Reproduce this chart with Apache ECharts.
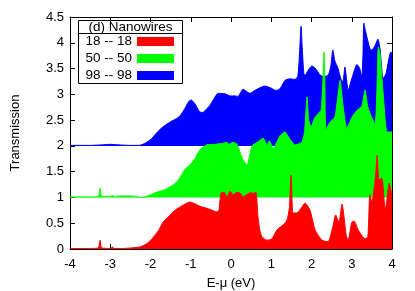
<!DOCTYPE html>
<html><head><meta charset="utf-8">
<script src="https://cdn.jsdelivr.net/npm/echarts@6/dist/echarts.min.js"></script>
<style>html,body{margin:0;padding:0;background:#fff}#c{width:415px;height:291px}</style>
</head><body><div id="c"></div>
<script>
// x ticks and y ticks
var xTicks = [-4, -3, -2, -1, 0, 1, 2, 3, 4];
var yTicks = [0, 0.5, 1, 1.5, 2, 2.5, 3, 3.5, 4, 4.5];
var seriesNames = ['18 -- 18', '50 -- 50', '98 -- 98'];
var baselines = [0, 1, 2];

// 18 -- 18 (offset 0)
var redE = [-4, -3.6, -3.3, -3.27, -3.25, -3.23, -3.2, -3.0, -2.95, -2.9, -2.7, -2.5, -2.26, -2.1, -1.96, -1.8, -1.69, -1.55, -1.44, -1.3, -1.19, -1.02, -0.9, -0.77, -0.6, -0.5, -0.35, -0.3, -0.25, -0.17, -0.1, -0.02, 0.05, 0.15, 0.22, 0.3, 0.4, 0.47, 0.55, 0.62, 0.67, 0.72, 0.77, 0.89, 1.02, 1.14, 1.3, 1.39, 1.45, 1.49, 1.52, 1.54, 1.64, 1.75, 1.84, 1.96, 2.09, 2.26, 2.41, 2.53, 2.6, 2.68, 2.76, 2.82, 2.86, 2.91, 3.0, 3.06, 3.16, 3.33, 3.4, 3.45, 3.5, 3.56, 3.6, 3.63, 3.66, 3.68, 3.75, 3.8, 3.83, 3.88, 3.93, 3.97, 4.0];
var redT = [0.01, 0.01, 0.02, 0.1, 0.17, 0.05, 0.02, 0.01, 0.04, 0.01, 0.01, 0.02, 0.04, 0.1, 0.2, 0.36, 0.52, 0.63, 0.72, 0.8, 0.85, 0.91, 0.88, 0.83, 0.79, 0.76, 0.72, 0.75, 1.08, 1.1, 1.01, 1.12, 1.05, 1.1, 1.09, 1.01, 1.06, 1.09, 1.08, 1.1, 0.63, 0.35, 0.24, 0.17, 0.2, 0.37, 0.47, 0.56, 0.8, 1.43, 0.9, 0.7, 0.7, 0.8, 0.89, 0.76, 0.37, 0.17, 0.14, 0.43, 0.66, 0.52, 0.87, 0.55, 0.27, 0.17, 0.52, 0.54, 0.37, 0.2, 0.24, 1.05, 0.91, 1.2, 1.5, 1.82, 1.45, 1.34, 1.37, 1.0, 0.76, 1.0, 1.28, 1.15, 1.0];

// 50 -- 50 (offset 1)
var greenE = [-4, -3.5, -3.3, -3.27, -3.25, -3.23, -3.2, -3.0, -2.95, -2.9, -2.7, -2.5, -2.2, -2.0, -1.89, -1.65, -1.44, -1.35, -1.27, -1.14, -1.02, -0.9, -0.77, -0.6, -0.4, -0.2, -0.1, -0.05, 0.05, 0.15, 0.27, 0.4, 0.52, 0.65, 0.8, 0.9, 0.95, 1.05, 1.22, 1.34, 1.45, 1.59, 1.76, 1.83, 1.89, 1.93, 1.99, 2.08, 2.16, 2.24, 2.29, 2.31, 2.33, 2.36, 2.45, 2.58, 2.66, 2.71, 2.78, 2.88, 3.0, 3.13, 3.25, 3.33, 3.4, 3.5, 3.58, 3.63, 3.66, 3.7, 3.78, 3.88, 4.0];
var greenT = [1.01, 1.01, 1.02, 1.1, 1.18, 1.05, 1.02, 1.02, 1.04, 1.02, 1.03, 1.03, 1.0, 1.05, 1.09, 1.15, 1.24, 1.3, 1.38, 1.55, 1.63, 1.75, 1.93, 2.02, 2.03, 2.05, 2.07, 2.03, 2.07, 2.03, 1.78, 1.63, 2.0, 2.07, 2.15, 2.02, 2.1, 1.96, 2.2, 2.27, 2.15, 2.02, 2.07, 2.3, 2.95, 2.5, 2.37, 2.55, 2.62, 2.7, 3.4, 3.82, 3.3, 2.31, 2.45, 2.56, 3.0, 3.27, 2.8, 2.34, 2.55, 2.69, 2.77, 3.08, 2.75, 2.55, 2.42, 3.2, 3.92, 3.8, 3.02, 2.27, 2.27];

// 98 -- 98 (offset 2)
var blueE = [-4, -3.5, -3.2, -3.0, -2.8, -2.5, -2.3, -2.19, -2.0, -1.85, -1.69, -1.5, -1.35, -1.27, -1.15, -1.05, -0.99, -0.9, -0.78, -0.7, -0.6, -0.52, -0.42, -0.32, -0.15, -0.02, 0.1, 0.17, 0.3, 0.4, 0.47, 0.6, 0.84, 1.0, 1.1, 1.17, 1.25, 1.34, 1.45, 1.59, 1.66, 1.71, 1.74, 1.77, 1.81, 1.84, 1.92, 2.01, 2.1, 2.21, 2.3, 2.42, 2.48, 2.53, 2.58, 2.66, 2.73, 2.78, 2.83, 2.87, 2.91, 3.0, 3.13, 3.2, 3.25, 3.28, 3.3, 3.35, 3.45, 3.5, 3.58, 3.65, 3.7, 3.78, 3.85, 3.97, 4.0];
var blueT = [2.01, 2.01, 2.02, 2.03, 2.02, 2.01, 2.01, 2.03, 2.12, 2.25, 2.37, 2.47, 2.53, 2.58, 2.72, 2.86, 2.89, 2.82, 2.66, 2.65, 2.72, 2.79, 2.92, 3.02, 3.01, 2.97, 2.97, 2.96, 3.1, 3.05, 3.02, 3.08, 3.16, 3.12, 3.08, 3.08, 3.15, 3.27, 3.3, 3.29, 3.35, 3.9, 4.32, 3.9, 3.4, 3.37, 3.47, 3.55, 3.5, 3.38, 3.34, 3.38, 3.55, 3.86, 3.65, 3.5, 3.3, 3.24, 3.53, 3.3, 3.08, 3.3, 3.58, 3.5, 3.33, 3.8, 4.38, 4.2, 3.89, 3.86, 3.95, 4.07, 3.9, 3.31, 3.4, 3.82, 3.8];

function pairs(e, t) { return e.map(function (v, i) { return [v, t[i]]; }); }

var FONT = 'Liberation Sans';
var colors = ['#ff0000', '#00ff00', '#0000ff'];
var dataSets = [pairs(redE, redT), pairs(greenE, greenT), pairs(blueE, blueT)];

// draw order: blue, green, red (red on top)
var series = [2, 1, 0].map(function (k) {
  return {
    name: seriesNames[k], type: 'line', data: dataSets[k],
    xAxisIndex: 0, yAxisIndex: 0,
    smooth: 0.2, symbol: 'none', showSymbol: false, sampling: null,
    color: colors[k],
    itemStyle: { color: colors[k] },
    lineStyle: { color: colors[k], width: 1 },
    areaStyle: { color: colors[k], opacity: 1, origin: baselines[k] },
    z: 2 + (2 - k)
  };
});

function axisCommon() {
  return {
    axisLine: { show: true, onZero: false, lineStyle: { color: '#000', width: 1 } },
    axisTick: { show: true, inside: true, length: 5, lineStyle: { color: '#000' } },
    splitLine: { show: false }
  };
}

var chart = echarts.init(document.getElementById('c'), null, { renderer: 'canvas' });
chart.setOption({
  animation: false,
  backgroundColor: '#fff',
  textStyle: { fontFamily: FONT },
  grid: { left: 70, right: 23, top: 17, bottom: 42, show: false, containLabel: false, outerBoundsMode: 'none' },
  xAxis: [
    Object.assign({
      type: 'value', min: -4, max: 4, interval: 1, position: 'bottom',
      axisLabel: { show: true, color: '#000', fontSize: 13, fontFamily: FONT, margin: 9,
        formatter: function (v) { return xTicks.indexOf(v) >= 0 ? String(v) : ''; } },
      name: 'E-\u03bc (eV)', nameLocation: 'middle', nameGap: 28,
      nameTextStyle: { color: '#000', fontSize: 13, fontFamily: FONT }
    }, axisCommon()),
    Object.assign({
      type: 'value', min: -4, max: 4, interval: 1, position: 'top',
      axisLabel: { show: false }
    }, axisCommon())
  ],
  yAxis: [
    Object.assign({
      type: 'value', min: 0, max: 4.5, interval: 0.5, position: 'left',
      axisLabel: { show: true, color: '#000', fontSize: 13, fontFamily: FONT, margin: 6,
        formatter: function (v) { return yTicks.indexOf(v) >= 0 ? String(v) : ''; } },
      name: 'Transmission', nameLocation: 'middle', nameGap: 48,
      nameTextStyle: { color: '#000', fontSize: 13, fontFamily: FONT }
    }, axisCommon()),
    Object.assign({
      type: 'value', min: 0, max: 4.5, interval: 0.5, position: 'right',
      axisLabel: { show: false }
    }, axisCommon())
  ],
  legend: {
    data: seriesNames, orient: 'vertical', left: 82, top: 34,
    itemWidth: 37, itemHeight: 9, itemGap: 2, align: 'right', icon: 'rect',
    selectedMode: false, padding: 0,
    textStyle: { color: '#000', fontSize: 13.5, fontFamily: FONT, width: 50, lineHeight: 15 }
  },
  graphic: [
    { type: 'rect', shape: { x: 78.5, y: 20.5, width: 104, height: 63 },
      style: { fill: null, stroke: '#000', lineWidth: 1 }, z: 10 },
    { type: 'line', shape: { x1: 78.5, y1: 33.5, x2: 182.5, y2: 33.5 },
      style: { stroke: '#000', lineWidth: 1 }, z: 10 },
    { type: 'text', x: 130.5, y: 27, z: 10,
      style: { text: '(d) Nanowires', fill: '#000', font: '13.5px "Liberation Sans"', align: 'center', verticalAlign: 'middle' } }
  ],
  series: series
});
</script>
</body></html>
